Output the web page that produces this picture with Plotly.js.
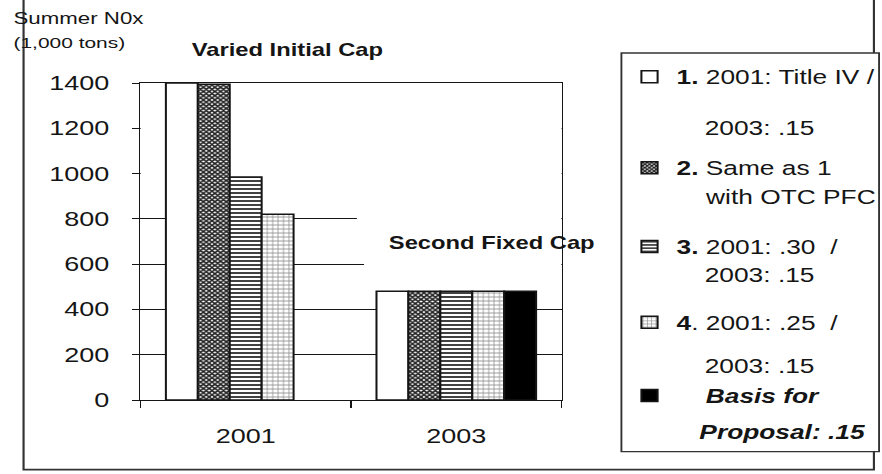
<!DOCTYPE html>
<html>
<head>
<meta charset="utf-8">
<script src="https://cdn.plot.ly/plotly-3.0.1.min.js"></script>
<style>
  html, body { margin: 0; padding: 0; background: #fff; overflow: hidden; }
  #chart { width: 653px; height: 474px; transform: scaleX(1.35); transform-origin: 0 0; }
</style>
</head>
<body>
<div id="chart"></div>
<script>
// Summer NOx budget by scenario, in thousands of tons
const years = ['2001', '2003'];
const yTicks = [0, 200, 400, 600, 800, 1000, 1200, 1400];

const titleIV   = [1400, 480];   // 1. 2001: Title IV / 2003: .15
const withPFC   = [1395, 480];   // 2. Same as 1 with OTC PFC
const rate30    = [985, 480];    // 3. 2001: .30 / 2003: .15
const rate25    = [820, 480];    // 4. 2001: .25 / 2003: .15
const basis     = [null, 480];   // Basis for Proposal: .15

const firstLines = [
  '<b>1.</b> 2001: Title IV /',
  '<b>2.</b> Same as 1',
  '<b>3.</b> 2001: .30  /',
  '<b>4</b>. 2001: .25  /',
  '\u00a0\u00a0\u00a0\u00a0<b><i>Basis for</i></b>'
];
const secondLines = [
  '2003: .15',
  'with OTC PFC',
  '2003: .15',
  '2003: .15',
  '<b><i>Proposal: .15</i></b>'
];

const FONT = 'Liberation Sans, Arial, Helvetica, sans-serif';
const INK = '#151515';
const outline = { color: INK, width: 1.5 };

const fills = [
  { color: '#ffffff', line: outline },
  { color: '#ffffff', line: outline,
    pattern: { shape: 'x', fgcolor: '#222', bgcolor: '#fff', size: 3, solidity: 0.7 } },
  { color: '#ffffff', line: outline,
    pattern: { shape: '-', fgcolor: '#111', bgcolor: '#fff', size: 4, solidity: 0.4 } },
  { color: '#ffffff', line: outline,
    pattern: { shape: '+', fgcolor: '#888', bgcolor: '#fff', size: 4, solidity: 0.3 } },
  { color: '#000000', line: outline }
];

const seriesValues = [titleIV, withPFC, rate30, rate25, basis];
const legendIds = ['legend', 'legend2', 'legend3', 'legend4', 'legend5'];

const traces = seriesValues.map((vals, i) => ({
  type: 'bar',
  x: years,
  y: vals,
  name: firstLines[i],
  marker: fills[i],
  legend: legendIds[i],
  hoverinfo: 'skip'
}));

// one legend per entry so each row sits at its own height
const legendY = [1.019, 0.732, 0.483, 0.244, 0.0135];
const legendCommon = {
  x: 1.1446, xanchor: 'left', yanchor: 'middle',
  bgcolor: 'rgba(0,0,0,0)', borderwidth: 0,
  font: { family: FONT, size: 19.5, color: INK }
};

const secondY = [0.858, 0.641, 0.395, 0.108, -0.0999];
const secondX = [1.3318, 1.3318, 1.3318, 1.3318, 1.320];

const annotations = [
  { text: '<b>Varied Initial Cap</b>', xref: 'paper', yref: 'paper', x: 0.3506, y: 1.104,
    xanchor: 'center', yanchor: 'middle', showarrow: false,
    font: { family: FONT, size: 17.6, color: INK } },
  { text: '<b>Second Fixed Cap</b>', xref: 'paper', yref: 'paper', x: 0.835, y: 0.496,
    xanchor: 'center', yanchor: 'middle', showarrow: false,
    font: { family: FONT, size: 17.6, color: INK } },
  { text: 'Summer N0x', xref: 'paper', yref: 'paper', x: -0.307, y: 1.205,
    xanchor: 'left', yanchor: 'middle', showarrow: false,
    font: { family: FONT, size: 16.5, color: INK } },
  { text: '(1,000 tons)', xref: 'paper', yref: 'paper', x: -0.307, y: 1.129,
    xanchor: 'left', yanchor: 'middle', showarrow: false,
    font: { family: FONT, size: 15.5, color: INK } }
].concat(secondLines.map((t, i) => ({
  text: t, xref: 'paper', yref: 'paper', x: secondX[i], y: secondY[i],
  xanchor: 'left', yanchor: 'middle', showarrow: false,
  font: { family: FONT, size: 19.5, color: INK }
})));

const shapes = [
  // gridlines are hidden where the cap labels sit
  { type: 'rect', xref: 'x', yref: 'y', x0: -0.5, x1: 1.5, y0: 900, y1: 1300,
    fillcolor: '#fff', line: { width: 0 }, layer: 'between' },
  { type: 'rect', xref: 'x', yref: 'y', x0: 0.528, x1: 1.5, y0: 700, y1: 1390,
    fillcolor: '#fff', line: { width: 0 }, layer: 'between' },
  { type: 'rect', xref: 'x', yref: 'y', x0: 0.562, x1: 1.5, y0: 530, y1: 700,
    fillcolor: '#fff', line: { width: 0 }, layer: 'between' },
  // outer frame
  { type: 'rect', xref: 'paper', yref: 'paper', x0: -0.2774, x1: 1.7415, y0: -0.2197, y1: 2,
    fillcolor: 'rgba(0,0,0,0)', line: { color: '#333', width: 1.6 }, layer: 'above' },
  // legend box
  { type: 'rect', xref: 'paper', yref: 'paper', x0: 1.142, x1: 1.7537, y0: -0.163, y1: 1.0946,
    fillcolor: '#fff', line: { color: '#333', width: 1.4 }, layer: 'above' }
];

const layout = {
  width: 653, height: 474,
  margin: { l: 103.7, r: 236.7, t: 83, b: 73.7, pad: 0, autoexpand: false },
  paper_bgcolor: '#fff', plot_bgcolor: '#fff',
  barmode: 'group', bargap: 0.242, bargroupgap: 0,
  font: { family: FONT, color: INK },
  showlegend: true,
  xaxis: {
    type: 'category', categoryorder: 'array', categoryarray: years,
    showline: true, mirror: true, linecolor: INK, linewidth: 1,
    showgrid: false, zeroline: false,
    ticks: 'outside', tickson: 'boundaries', ticklen: 7, tickcolor: INK, tickwidth: 1,
    tickfont: { family: FONT, size: 20, color: INK },
    ticklabelstandoff: 18
  },
  yaxis: {
    range: [0, 1400], tickvals: yTicks, ticktext: yTicks.map(String),
    showline: true, mirror: true, linecolor: INK, linewidth: 1,
    showgrid: true, gridcolor: INK, gridwidth: 1, zeroline: false,
    ticks: 'outside', ticklen: 5, tickcolor: INK, tickwidth: 1,
    tickfont: { family: FONT, size: 20, color: INK },
    ticklabelstandoff: 13
  },
  annotations: annotations,
  shapes: shapes
};
legendIds.forEach((id, i) => {
  layout[id] = Object.assign({}, legendCommon, { y: legendY[i] });
});

Plotly.newPlot('chart', traces, layout, { staticPlot: true, displayModeBar: false });
</script>
</body>
</html>
